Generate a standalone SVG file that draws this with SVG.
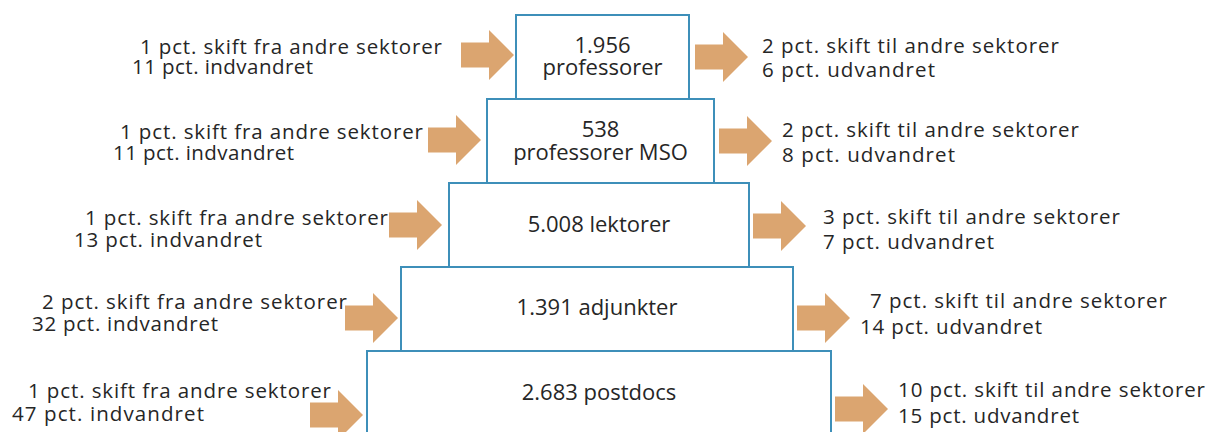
<svg xmlns="http://www.w3.org/2000/svg" xmlns:xlink="http://www.w3.org/1999/xlink" width="1208" height="432" viewBox="0 0 1208 432">
  <style>
    .box { fill: #ffffff; stroke: #3d8fb9; stroke-width: 2; }
    .lbl { font-family: "Open Sans", "Liberation Sans", sans-serif; font-size: 20.5px; fill: #262626; }
    .mid { text-anchor: middle; font-size: 22px; }
    .arrow { fill: #dba570; }
  </style>
  <defs>
    <!-- block arrow pointing right, origin at tail centre -->
    <path id="blockArrow" d="M0,-12.5 H28 V-25 L53,0 L28,25 V12.5 H0 Z"/>
  </defs>

  <rect width="1208" height="432" fill="#ffffff"/>

  <!-- stacked levels, narrowest on top -->
  <g id="node-professorer">
    <rect class="box" x="516" y="15" width="173" height="84"/>
    <text class="lbl mid" x="602.5" y="53">1.956</text>
    <text class="lbl mid" x="602.5" y="75">professorer</text>
  </g>
  <g id="node-professorer-mso">
    <rect class="box" x="487" y="99" width="227" height="84"/>
    <text class="lbl mid" x="600.5" y="137">538</text>
    <text class="lbl mid" x="600.5" y="160">professorer MSO</text>
  </g>
  <g id="node-lektorer">
    <rect class="box" x="449" y="183" width="300" height="84"/>
    <text class="lbl mid" x="599" y="232">5.008 lektorer</text>
  </g>
  <g id="node-adjunkter">
    <rect class="box" x="401" y="267" width="392" height="84"/>
    <text class="lbl mid" x="597" y="315">1.391 adjunkter</text>
  </g>
  <g id="node-postdocs">
    <rect class="box" x="367" y="351" width="464" height="100"/>
    <text class="lbl mid" x="599" y="400">2.683 postdocs</text>
  </g>

  <!-- inflow and outflow arrows -->
  <g id="connectors" class="arrow">
    <use xlink:href="#blockArrow" transform="translate(461,55)"/>
    <use xlink:href="#blockArrow" transform="translate(428,140)"/>
    <use xlink:href="#blockArrow" transform="translate(389,225)"/>
    <use xlink:href="#blockArrow" transform="translate(345,318)"/>
    <use xlink:href="#blockArrow" transform="translate(310,415)"/>
    <use xlink:href="#blockArrow" transform="translate(695,57)"/>
    <use xlink:href="#blockArrow" transform="translate(719,141)"/>
    <use xlink:href="#blockArrow" transform="translate(753,226)"/>
    <use xlink:href="#blockArrow" transform="translate(797,318)"/>
    <use xlink:href="#blockArrow" transform="translate(835,409)"/>
  </g>

  <!-- inflow labels -->
  <g id="inflow-labels">
    <text class="lbl" x="140" y="54" textLength="302">1 pct. skift fra andre sektorer</text>
    <text class="lbl" x="132" y="74" textLength="181">11 pct. indvandret</text>
    <text class="lbl" x="120" y="139" textLength="303">1 pct. skift fra andre sektorer</text>
    <text class="lbl" x="113" y="160" textLength="181">11 pct. indvandret</text>
    <text class="lbl" x="85" y="225" textLength="303">1 pct. skift fra andre sektorer</text>
    <text class="lbl" x="74" y="247" textLength="188">13 pct. indvandret</text>
    <text class="lbl" x="42" y="309" textLength="305">2 pct. skift fra andre sektorer</text>
    <text class="lbl" x="32" y="331" textLength="186">32 pct. indvandret</text>
    <text class="lbl" x="28" y="398" textLength="303">1 pct. skift fra andre sektorer</text>
    <text class="lbl" x="12" y="421" textLength="192">47 pct. indvandret</text>
  </g>

  <!-- outflow labels -->
  <g id="outflow-labels">
    <text class="lbl" x="762" y="53" textLength="297">2 pct. skift til andre sektorer</text>
    <text class="lbl" x="762" y="77" textLength="173">6 pct. udvandret</text>
    <text class="lbl" x="782" y="137" textLength="297">2 pct. skift til andre sektorer</text>
    <text class="lbl" x="782" y="162" textLength="173">8 pct. udvandret</text>
    <text class="lbl" x="823" y="224" textLength="297">3 pct. skift til andre sektorer</text>
    <text class="lbl" x="823" y="249" textLength="171">7 pct. udvandret</text>
    <text class="lbl" x="870" y="308" textLength="297">7 pct. skift til andre sektorer</text>
    <text class="lbl" x="860" y="334" textLength="182">14 pct. udvandret</text>
    <text class="lbl" x="898" y="397" textLength="307">10 pct. skift til andre sektorer</text>
    <text class="lbl" x="898" y="423" textLength="181">15 pct. udvandret</text>
  </g>
</svg>
